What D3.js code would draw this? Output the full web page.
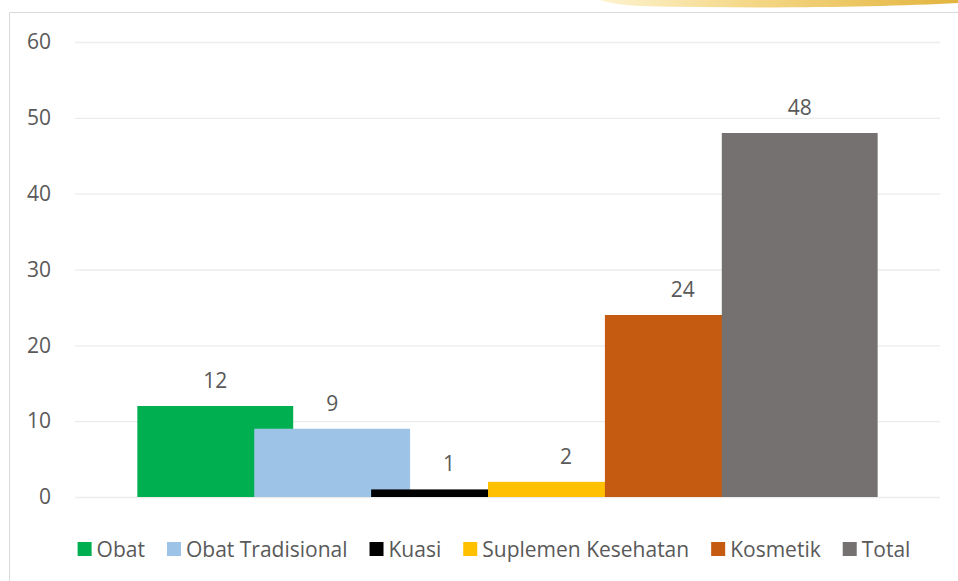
<!DOCTYPE html>
<meta charset="utf-8">
<script src="https://d3js.org/d3.v7.min.js"></script>
<style>
  body { margin: 0; background: #fff; }
  text { font-family: "Open Sans", sans-serif; fill: #595959; }
</style>
<div id="my_dataviz"></div>
<script>

// data
var categories = ["Obat", "Obat Tradisional", "Kuasi", "Suplemen Kesehatan", "Kosmetik", "Total"];
var values = [12, 9, 1, 2, 24, 48];
var colors = ["#00b050", "#9dc3e6", "#000000", "#ffc000", "#c55a11", "#767171"];
var yTicks = [0, 10, 20, 30, 40, 50, 60];

var W = 958, H = 581;
var plot = {left: 75, right: 940, top: 42, bottom: 497};

var svg = d3.select("#my_dataviz")
  .append("svg")
  .attr("width", W)
  .attr("height", H);

// gold swoosh at the top right
var grad = svg.append("defs").append("linearGradient")
  .attr("id", "gold").attr("x1", "0%").attr("x2", "100%");
grad.append("stop").attr("offset", "0%").attr("stop-color", "#fdf3d0");
grad.append("stop").attr("offset", "40%").attr("stop-color", "#f5d98a");
grad.append("stop").attr("offset", "100%").attr("stop-color", "#e3b43e");
svg.append("path")
  .attr("d", "M600,0 L958,0 L958,3 C880,7 760,9 640,6 C620,5 605,2 600,0 Z")
  .attr("fill", "url(#gold)");

// frame
svg.append("path")
  .attr("d", "M958,12.5 L9.5,12.5 L9.5,581")
  .attr("fill", "none")
  .attr("stroke", "#d9d9d9")
  .attr("stroke-width", 1);

// scales
var y = d3.scaleLinear()
  .domain([0, 60])
  .range([plot.bottom, plot.top]);

var x = d3.scaleBand()
  .domain(categories)
  .range([plot.left, plot.right])
  .paddingInner(0)
  .paddingOuter(0.7);

var barW = x.bandwidth() * 4 / 3;

// gridlines and y labels
var yAxis = svg.append("g")
  .attr("transform", "translate(" + plot.left + ",0)")
  .call(d3.axisLeft(y).tickValues(yTicks).tickSize(-(plot.right - plot.left)).tickPadding(24));
yAxis.select(".domain").remove();
yAxis.selectAll(".tick line").attr("stroke", "#ececec").attr("stroke-width", 1.3);
yAxis.selectAll(".tick text")
  .style("font-family", "'Open Sans', sans-serif")
  .style("font-size", "21px")
  .attr("fill", "#595959");

// bars
svg.selectAll("myBars")
  .data(categories)
  .enter()
  .append("rect")
  .attr("x", function(d) { return x(d) + x.bandwidth() / 2 - barW / 2; })
  .attr("y", function(d, i) { return y(values[i]); })
  .attr("width", barW)
  .attr("height", function(d, i) { return y(0) - y(values[i]); })
  .attr("fill", function(d, i) { return colors[i]; });

// value labels
svg.selectAll("myLabels")
  .data(categories)
  .enter()
  .append("text")
  .attr("x", function(d) { return x(d) + x.bandwidth() / 2; })
  .attr("y", function(d, i) { return y(values[i]) - 18; })
  .attr("text-anchor", "middle")
  .style("font-size", "21px")
  .text(function(d, i) { return values[i]; });

// legend
var legend = svg.append("g");
var cx = 0;
categories.forEach(function(d, i) {
  var g = legend.append("g").attr("transform", "translate(" + cx + ",0)");
  g.append("rect").attr("x", 0).attr("y", -7).attr("width", 14).attr("height", 14).attr("fill", colors[i]);
  var t = g.append("text").attr("x", 19).attr("y", 7.5).style("font-size", "21px").text(d);
  cx += 19 + t.node().getComputedTextLength() + 22;
});
var legendW = cx - 22;
legend.attr("transform", "translate(" + (494 - legendW / 2) + ",549)");

</script>
